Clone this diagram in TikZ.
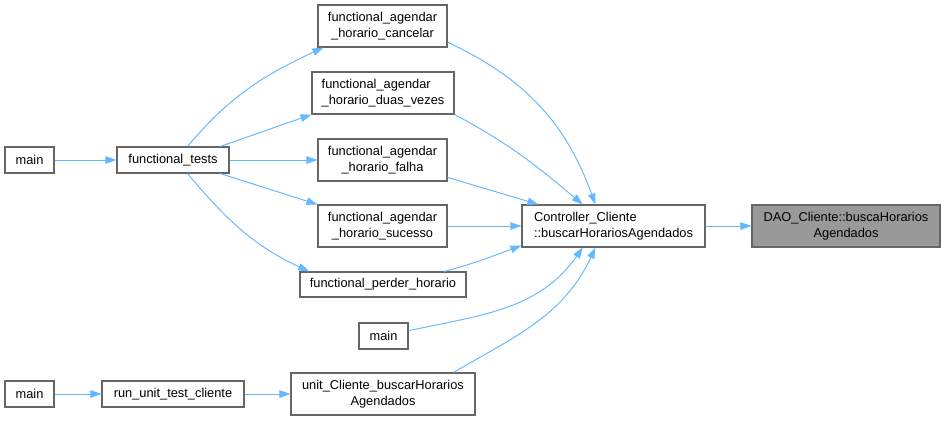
\documentclass[tikz,border=0pt]{standalone}
\usepackage{fontspec}
\setmainfont{Liberation Sans}
\usetikzlibrary{arrows.meta}
\definecolor{edgeblue}{HTML}{63B8FF}
\definecolor{boxline}{HTML}{666666}
\definecolor{hlfill}{HTML}{999999}

\begin{document}
\begin{tikzpicture}[x=0.02cm, y=-0.02cm, font=\fontsize{7.3}{9.1}\selectfont,
  fn/.style 2 args={draw=boxline, fill=white, line width=0.6pt, inner sep=0pt,
    minimum width=#1*0.02cm, minimum height=#2*0.02cm, align=center},
  hl/.style={fill=hlfill},
  call/.style={draw=edgeblue, line width=0.55pt, -{Triangle[length=0.22cm, width=0.15cm]}}]
\useasboundingbox (0,0) rectangle (945,421);

% callers, left to right
\node[fn={49}{26}] (mainA) at (29.5,160) {main};
\node[fn={112}{26}] (ftests) at (173,160) {functional\_tests};
\node[fn={49}{26}] (mainC) at (29.5,394) {main};
\node[fn={142}{26}] (rununit) at (173,394) {run\_unit\_test\_cliente};

\node[fn={129}{42}] (cancelar) at (382.5,26) {functional\_agendar\\\_horario\_cancelar};
\node[fn={142}{42}, align=left] (duas) at (383,93) {functional\_agendar\\\_horario\_duas\_vezes};
\node[fn={129}{42}] (falha) at (382.5,160) {functional\_agendar\\\_horario\_falha};
\node[fn={129}{42}] (sucesso) at (382.5,226) {functional\_agendar\\\_horario\_sucesso};
\node[fn={166}{25}] (perder) at (383,284.5) {functional\_perder\_horario};
\node[fn={49}{26}] (mainB) at (383.5,336) {main};
\node[fn={184}{42}] (unitbusca) at (383,394) {unit\_Cliente\_buscarHorarios\\Agendados};

\node[fn={183}{42}, align=left] (ctrl) at (613.5,226) {Controller\_Cliente\\::buscarHorariosAgendados};
\node[fn={188}{42}, hl] (dao) at (846,226) {DAO\_Cliente::buscaHorarios\\Agendados};

% edges into the functional tests
\draw[call] (mainA) -- (ftests);
\draw[call] (ftests.43) to[out=50, in=205] (cancelar.200);
\draw[call] (ftests.16) -- (duas.south west);
\draw[call] (ftests) -- (falha);
\draw[call] (ftests.-16) -- (sucesso.north west);
\draw[call] (ftests.-43) to[out=-50, in=155] (perder.170);
\draw[call] (mainC) -- (rununit);
\draw[call] (rununit) -- (unitbusca);

% edges into the controller
\draw[call] (cancelar.-14) to[out=-25, in=110] (ctrl.130);
\draw[call] (duas.south east) to[out=-28, in=140] (ctrl.145);
\draw[call] (falha.-15) -- (ctrl.164);
\draw[call] (sucesso) -- (ctrl);
\draw[call] (perder.12) to[out=15, in=-160] (ctrl.-168);
\draw[call] (mainB.12) to[out=12, in=-125] (ctrl.-145);
\draw[call] (unitbusca.17) to[out=30, in=-115] (ctrl.-130);
\draw[call] (ctrl) -- (dao);
\end{tikzpicture}
\end{document}
